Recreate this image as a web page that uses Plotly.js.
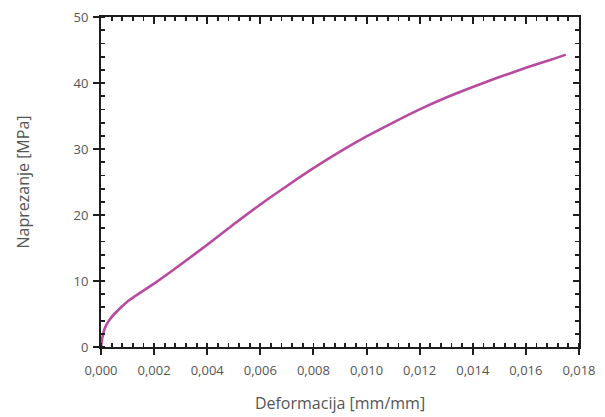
<!DOCTYPE html>
<html>
<head>
<meta charset="utf-8">
<script src="https://cdn.plot.ly/plotly-3.0.1.min.js"></script>
<style>html,body{margin:0;padding:0;background:#fff;}#chart{width:605px;height:417px;}</style>
</head>
<body>
<div id="chart"></div>
<script>
const strain = [0, 0.00005, 0.00015, 0.0003, 0.0005, 0.001, 0.002, 0.003, 0.004, 0.005, 0.006, 0.007, 0.008, 0.009, 0.010, 0.011, 0.012, 0.013, 0.014, 0.015, 0.016, 0.017, 0.0175];
const stress = [0, 1.4, 2.9, 4.0, 5.0, 6.9, 9.6, 12.5, 15.5, 18.6, 21.6, 24.4, 27.1, 29.6, 31.9, 34.0, 36.0, 37.8, 39.4, 40.9, 42.3, 43.6, 44.3];
const xTitle = 'Deformacija [mm/mm]';
const yTitle = 'Naprezanje [MPa]';

const axc = '#1e1e1e';
const fnt = {family: 'Open Sans, sans-serif', size: 13, color: '#555'};
const tfnt = {family: 'Open Sans, sans-serif', size: 16, color: '#555'};

const traces = [
  {x: strain, y: stress, mode: 'lines', line: {color: '#b84aa0', width: 2.6, shape: 'spline', smoothing: 0.5}, hoverinfo: 'skip', showlegend: false},
  {x: strain, y: stress, xaxis: 'x2', yaxis: 'y2', mode: 'lines', opacity: 0, line: {width: 0}, hoverinfo: 'skip', showlegend: false}
];

const layout = {
  width: 605, height: 417,
  margin: {l: 101, r: 26, t: 17, b: 70},
  paper_bgcolor: '#fff', plot_bgcolor: '#fff',
  separators: ', ',
  font: fnt,
  showlegend: false,
  xaxis: {
    range: [0, 0.018], dtick: 0.002, tick0: 0, tickformat: '.3f',
    ticks: 'outside', ticklen: 6, tickwidth: 2, tickcolor: axc,
    showline: true, linecolor: axc, linewidth: 2,
    showgrid: false, zeroline: false,
    minor: {dtick: 0.0004, ticks: 'inside', ticklen: 4, tickwidth: 1.8, tickcolor: axc, showgrid: false},
    tickfont: fnt, ticklabelstandoff: 4,
    title: {text: xTitle, font: tfnt, standoff: 20}
  },
  xaxis2: {
    overlaying: 'x', side: 'top', range: [0, 0.018], dtick: 0.002, tick0: 0,
    ticks: 'inside', ticklen: 7, tickwidth: 2, tickcolor: axc,
    showline: true, linecolor: axc, linewidth: 2,
    showgrid: false, zeroline: false, showticklabels: false,
    minor: {dtick: 0.0004, ticks: 'inside', ticklen: 4, tickwidth: 1.8, tickcolor: axc, showgrid: false}
  },
  yaxis: {
    range: [0, 50], dtick: 10, tick0: 0,
    ticks: 'outside', ticklen: 6, tickwidth: 2, tickcolor: axc,
    showline: true, linecolor: axc, linewidth: 2,
    showgrid: false, zeroline: false,
    minor: {dtick: 2, ticks: 'inside', ticklen: 4, tickwidth: 1.8, tickcolor: axc, showgrid: false},
    tickfont: fnt, ticklabelstandoff: 2,
    title: {text: yTitle, font: tfnt, standoff: 40}
  },
  yaxis2: {
    overlaying: 'y', side: 'right', range: [0, 50], dtick: 10, tick0: 0,
    ticks: 'inside', ticklen: 6, tickwidth: 2, tickcolor: axc,
    showline: true, linecolor: axc, linewidth: 2,
    showgrid: false, zeroline: false, showticklabels: false,
    minor: {dtick: 2, ticks: 'inside', ticklen: 4, tickwidth: 1.8, tickcolor: axc, showgrid: false}
  }
};

Plotly.newPlot('chart', traces, layout, {staticPlot: true, displayModeBar: false});
</script>
</body>
</html>
